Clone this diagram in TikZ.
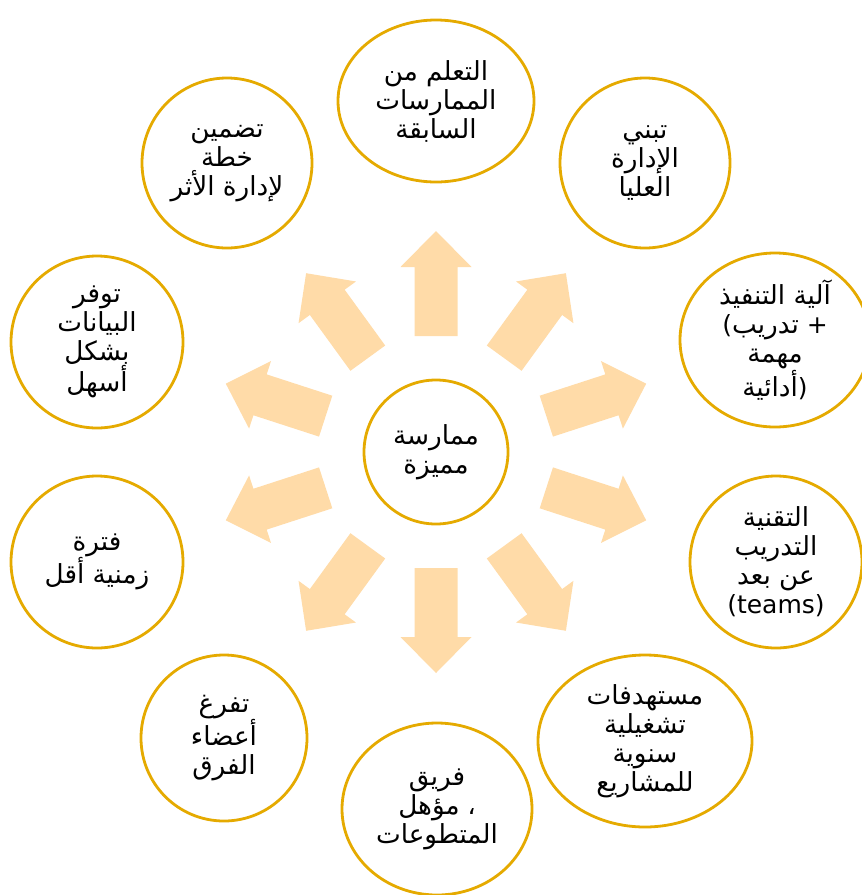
\documentclass[tikz,border=0pt]{standalone}
\usepackage{fontspec}
\setmainfont{DejaVu Sans}
\newfontfamily\arabicfont[Script=Arabic,Scale=1.05]{DejaVu Sans}
\TeXXeTstate=1
\usetikzlibrary{shapes.geometric}
\newcommand\ar[1]{{\arabicfont\beginR #1\endR}}
\definecolor{ringgold}{HTML}{E5AA00}
\definecolor{arrowpeach}{HTML}{FFDBA8}
\begin{document}
\begin{tikzpicture}[x=1pt,y=-1pt,
  bubble/.style={draw=ringgold, line width=2.8pt, fill=white, ellipse,
    inner sep=0pt, align=center, text=black,
    font=\fontsize{25}{29}\selectfont},
  burst/.style={fill=arrowpeach}]
\useasboundingbox (0,0) rectangle (862,895);
% radiating arrows
\foreach \a in {90,54,18,-18,-54,-90,-126,-162,162,126}{
  \begin{scope}[shift={(436,452)}, rotate=\a]
    \fill[burst] (116,-21.5) -- (185,-21.5) -- (185,-35.5) -- (221,0)
      -- (185,35.5) -- (185,21.5) -- (116,21.5) -- cycle;
  \end{scope}
}
% centre
\node[bubble, minimum width=144pt, minimum height=144pt] (c) at (436,452)
  {\ar{ممارسة}\\\ar{مميزة}};
% outer ring
\node[bubble, minimum width=196pt, minimum height=162pt] (n1) at (436,101)
  {\ar{التعلم من}\\\ar{الممارسات}\\\ar{السابقة}};
\node[bubble, minimum width=170pt, minimum height=170pt] (n2) at (645,163)
  {\ar{تبني}\\\ar{الإدارة}\\\ar{العليا}};
\node[bubble, minimum width=190pt, minimum height=174pt] (n3) at (775,340)
  {\ar{آلية التنفيذ}\\(\ar{تدريب} +\\\ar{مهمة}\\\ar{أدائية})};
\node[bubble, minimum width=172pt, minimum height=172pt] (n4) at (776,562)
  {\ar{التقنية}\\\ar{التدريب}\\\ar{عن بعد}\\(teams)};
\node[bubble, minimum width=214pt, minimum height=172pt] (n5) at (645,741)
  {\ar{مستهدفات}\\\ar{تشغيلية}\\\ar{سنوية}\\\ar{للمشاريع}};
\node[bubble, minimum width=190pt, minimum height=172pt] (n6) at (437,809)
  {\ar{فريق}\\\ar{مؤهل} ،\\\ar{المتطوعات}};
\node[bubble, minimum width=166pt, minimum height=166pt] (n7) at (224,738)
  {\ar{تفرغ}\\\ar{أعضاء}\\\ar{الفرق}};
\node[bubble, minimum width=172pt, minimum height=172pt] (n8) at (97,562)
  {\ar{فترة}\\\ar{زمنية أقل}};
\node[bubble, minimum width=172pt, minimum height=172pt] (n9) at (97,342)
  {\ar{توفر}\\\ar{البيانات}\\\ar{بشكل}\\\ar{أسهل}};
\node[bubble, minimum width=170pt, minimum height=170pt] (n10) at (227,163)
  {\ar{تضمين}\\\ar{خطة}\\\ar{لإدارة الأثر}};
\end{tikzpicture}
\end{document}
